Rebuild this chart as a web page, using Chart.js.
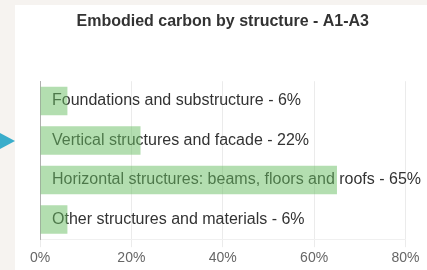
<!DOCTYPE html>
<html>
<head>
<meta charset="utf-8">
<script src="https://cdn.jsdelivr.net/npm/chart.js@4/dist/chart.umd.min.js"></script>
<style>
  html, body { margin: 0; padding: 0; }
  body { width: 427px; height: 270px; background: #f6f3f0; position: relative; overflow: hidden; }
  #card { position: absolute; left: 15px; top: 5px; right: 0; bottom: 0; background: #fff; }
  #arrow { position: absolute; left: 0; top: 133px; width: 0; height: 0;
    border-top: 8px solid transparent; border-bottom: 8px solid transparent;
    border-left: 15px solid #3aadcb; }
  #wrap { position: absolute; left: 0; top: 0; width: 427px; height: 270px; }
</style>
</head>
<body>
<div id="card"></div>
<div id="arrow"></div>
<div id="wrap"><canvas id="chart" width="427" height="270"></canvas></div>
<script>
const categories = [
  'Foundations and substructure - 6%',
  'Vertical structures and facade - 22%',
  'Horizontal structures: beams, floors and roofs - 65%',
  'Other structures and materials - 6%'
];
const shares = [6, 22, 65, 6];
const xTicks = [0, 20, 40, 60, 80];

const fontFamily = "'Liberation Sans', Arial, sans-serif";

/* horizontal bar chart */

const ctx = document.getElementById('chart');

new Chart(ctx, {
  type: 'bar',
  data: {
    labels: categories,
    datasets: [{
      data: shares,
      backgroundColor: 'rgba(103,189,97,0.5)',
      borderWidth: 0
    }]
  },
  options: {
    indexAxis: 'y',
    responsive: false,
    animation: false,
    devicePixelRatio: 1,
    layout: { padding: { left: 40, right: 21.5, top: 0, bottom: 0 } },
    plugins: {
      legend: { display: false },
      tooltip: { enabled: false },
      title: {
        display: true,
        text: 'Embodied carbon by structure - A1-A3',
        color: '#333',
        font: { family: fontFamily, size: 16, weight: 'bold' },
        padding: { top: 12, bottom: 50 }
      }
    },
    scales: {
      x: {
        min: xTicks[0],
        max: xTicks[xTicks.length - 1],
        afterBuildTicks: function(axis) {
          axis.ticks = xTicks.map(v => ({ value: v }));
        },
        ticks: {
          color: '#666',
          font: { family: fontFamily, size: 14 },
          callback: v => v + '%'
        },
        grid: { color: 'rgba(0,0,0,0.08)' },
        border: { color: 'rgba(0,0,0,0.06)' }
      },
      y: {
        afterFit: function(axis) {
          axis.width = 0;
        },
        ticks: {
          mirror: true,
          padding: 12,
          color: '#333',
          font: { family: fontFamily, size: 16 }
        },
        grid: { display: false, drawTicks: false },
        border: { color: 'rgba(0,0,0,0.25)' }
      }
    }
  }
});
</script>
</body>
</html>
